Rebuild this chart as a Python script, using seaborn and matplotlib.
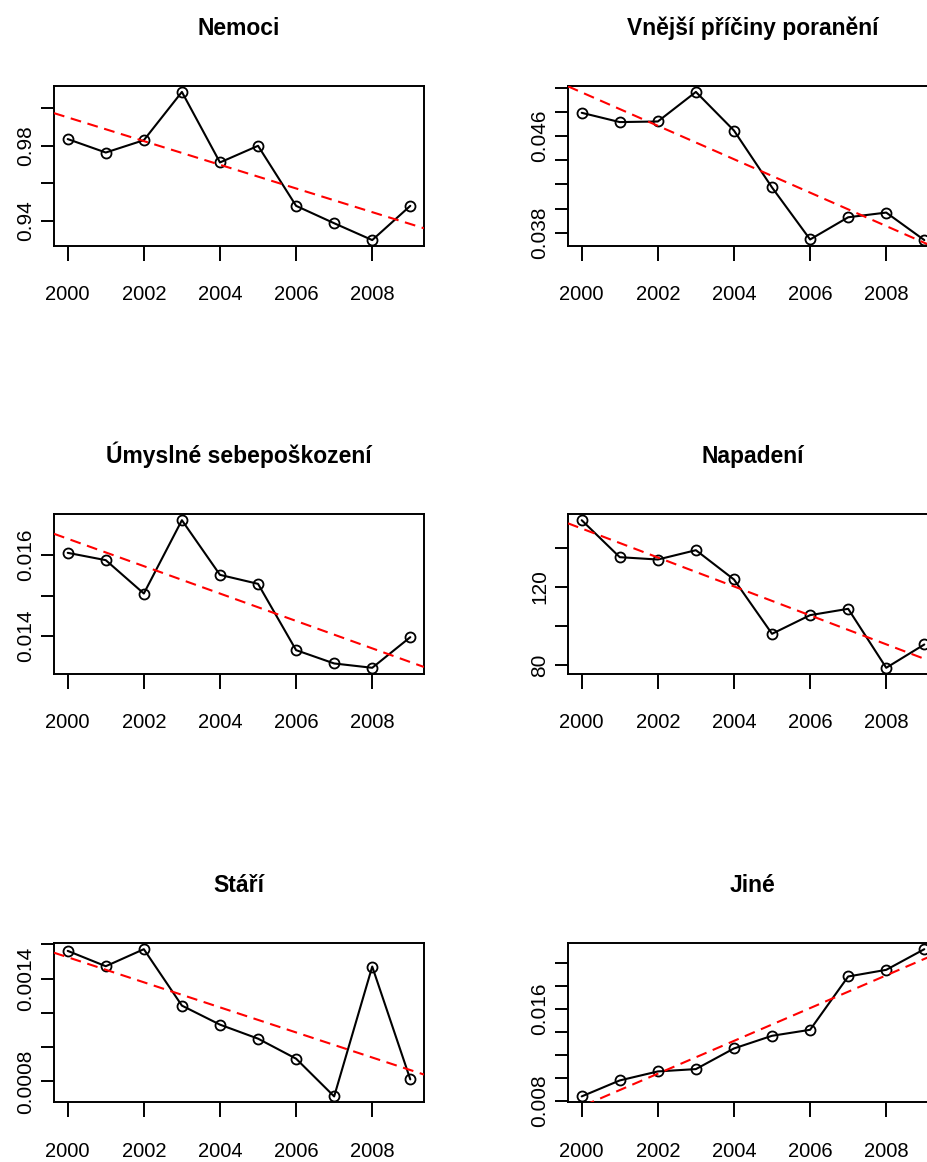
import numpy as np
import pandas as pd
import matplotlib
matplotlib.use("Agg")
import matplotlib.pyplot as plt
import seaborn as sns

# Rates by cause of death, 2000-2009
years = [2000, 2001, 2002, 2003, 2004, 2005, 2006, 2007, 2008, 2009]

nemoci = [0.9836, 0.9764, 0.9830, 1.0088, 0.9711, 0.9800, 0.9479, 0.9386, 0.9296, 0.9479]
vnejsi = [0.04794, 0.04717, 0.04722, 0.04967, 0.04647, 0.04175, 0.03744, 0.03928, 0.03967, 0.03739]
umyslne = [0.016058, 0.015877, 0.015053, 0.016864, 0.015514, 0.015292, 0.013654, 0.013325, 0.013218, 0.013975]
napadeni = [153.98, 135.12, 133.93, 138.69, 123.74, 96.04, 105.56, 108.79, 78.71, 90.60]
stari = [0.0015616, 0.0014720, 0.0015714, 0.0012423, 0.0011313, 0.0010495, 0.0009326, 0.0007126, 0.0014700, 0.0008119]
jine = [0.008378, 0.009774, 0.010560, 0.010764, 0.012567, 0.013673, 0.014196, 0.018851, 0.019433, 0.021236]

titles = ["Nemoci", "Vnější příčiny poranění", "Úmyslné sebepoškození",
          "Napadení", "Stáří", "Jiné"]

xticks = [2000, 2002, 2004, 2006, 2008]
xticklabels = ["2000", "2002", "2004", "2006", "2008"]

yticks_nemoci = [0.94, 0.96, 0.98, 1.00]
ylabels_nemoci = ["0.94", "", "0.98", ""]
yticks_vnejsi = [0.038, 0.040, 0.042, 0.044, 0.046, 0.048, 0.050]
ylabels_vnejsi = ["0.038", "", "", "", "0.046", "", ""]
yticks_umyslne = [0.014, 0.015, 0.016]
ylabels_umyslne = ["0.014", "", "0.016"]
yticks_napadeni = [80, 100, 120, 140]
ylabels_napadeni = ["80", "", "120", ""]
yticks_stari = [0.0008, 0.0010, 0.0012, 0.0014, 0.0016]
ylabels_stari = ["0.0008", "", "", "0.0014", ""]
yticks_jine = [0.008, 0.010, 0.012, 0.014, 0.016, 0.018, 0.020]
ylabels_jine = ["0.008", "", "", "", "0.016", "", ""]

sns.set_theme(style="ticks")
plt.rcParams["font.family"] = ["Liberation Sans", "DejaVu Sans"]
plt.rcParams["text.color"] = "black"
plt.rcParams["axes.edgecolor"] = "black"
plt.rcParams["xtick.color"] = "black"
plt.rcParams["ytick.color"] = "black"
plt.rcParams["xtick.labelcolor"] = "black"
plt.rcParams["ytick.labelcolor"] = "black"

W, H = 928, 1162
fig = plt.figure(figsize=(W / 100, H / 100), dpi=100)
fig.patch.set_facecolor("white")

col_left = [54, 568]
box_w = 370
rows = [(86, 246), (514.3, 673.7), (943.3, 1102.3)]

panels = [
    (titles[0], nemoci, yticks_nemoci, ylabels_nemoci),
    (titles[1], vnejsi, yticks_vnejsi, ylabels_vnejsi),
    (titles[2], umyslne, yticks_umyslne, ylabels_umyslne),
    (titles[3], napadeni, yticks_napadeni, ylabels_napadeni),
    (titles[4], stari, yticks_stari, ylabels_stari),
    (titles[5], jine, yticks_jine, ylabels_jine),
]

for i, (title, values, yt, yl) in enumerate(panels):
    r, c = divmod(i, 2)
    top, bottom = rows[r]
    ax = fig.add_axes([col_left[c] / W, 1 - bottom / H, box_w / W, (bottom - top) / H])
    ax.set_facecolor("white")
    df = pd.DataFrame({"rok": years, "hodnota": values})

    xpad = 0.04 * (max(years) - min(years))
    ypad = 0.04 * (max(values) - min(values))
    ax.set_xlim(min(years) - xpad, max(years) + xpad)

    sns.lineplot(data=df, x="rok", y="hodnota", ax=ax, color="black", lw=1.5,
                 marker="o", ms=7.2, mfc="none", mec="black", mew=1.3, zorder=3)
    sns.regplot(data=df, x="rok", y="hodnota", ax=ax, scatter=False, ci=None,
                truncate=False,
                line_kws=dict(color="red", lw=1.5, dashes=(5.2, 3.2), zorder=4))

    ax.set_xlim(min(years) - xpad, max(years) + xpad)
    ax.set_ylim(min(values) - ypad, max(values) + ypad)
    ax.set_xlabel("")
    ax.set_ylabel("")

    ax.set_xticks(xticks, xticklabels)
    ax.set_yticks(yt, yl)
    for lbl in ax.get_yticklabels():
        lbl.set_rotation(90)
        lbl.set_va("center")
    ax.tick_params(axis="x", length=10.8, width=1.4, pad=17.5, labelsize=14.5)
    ax.tick_params(axis="y", length=9.1, width=1.4, pad=4.5, labelsize=15)
    for s in ax.spines.values():
        s.set_linewidth(1.4)
        s.set_color("black")

    ax.annotate(title, xy=(0.5, 1), xycoords="axes fraction", xytext=(0, 36.7),
                textcoords="offset points", ha="center", va="baseline",
                fontsize=16.5, fontweight="bold", color="black")

fig.savefig("out.png", dpi=100, facecolor="white")
